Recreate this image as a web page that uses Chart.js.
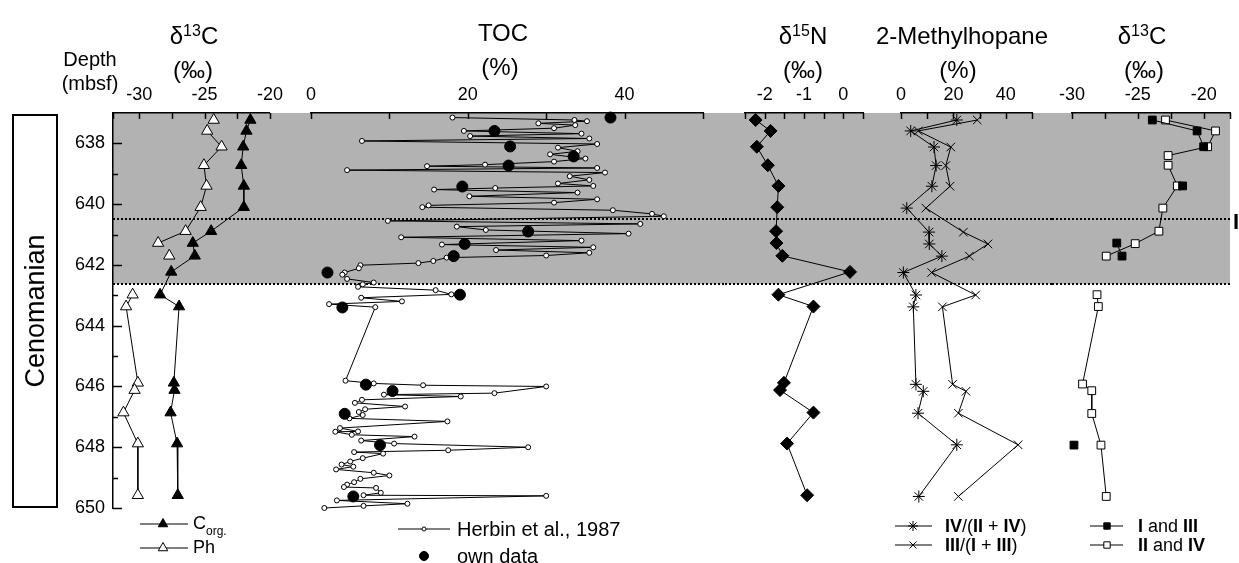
<!DOCTYPE html>
<html>
<head>
<meta charset="utf-8">
<script src="https://cdn.jsdelivr.net/npm/chart.js@4.4.1/dist/chart.umd.min.js"></script>
<style>
  body { margin: 0; width: 1239px; height: 563px; overflow: hidden; position: relative; background: #fff;
         font-family: "Liberation Sans", Arial, sans-serif; color: #000; }
  canvas { position: absolute; top: 0; }
  .t { position: absolute; white-space: nowrap; transform: translate(-50%, -50%); font-size: 24px; line-height: 1; }
  .sup { font-size: 16px; position: relative; top: -8px; }
  .sm { font-size: 20px; }
  .lg { position: absolute; white-space: nowrap; transform: translateY(-50%); font-size: 18px; line-height: 1; }
  .lg b { font-weight: bold; }
  .sub { font-size: 12px; position: relative; top: 6px; }
  #stage { position: absolute; left: 12px; top: 114px; width: 46px; height: 394px; border: 2px solid #000; box-sizing: border-box; }
  #stage span { position: absolute; left: 50%; top: 50%; transform: translate(-50%, -50%) rotate(-90deg); font-size: 27px; white-space: nowrap; }
</style>
</head>
<body>
<canvas id="c1" width="290" height="563" style="left:0px"></canvas>
<canvas id="c2" width="435" height="563" style="left:290px"></canvas>
<canvas id="c3" width="157" height="563" style="left:725px"></canvas>
<canvas id="c4" width="170" height="563" style="left:882px"></canvas>
<canvas id="c5" width="187" height="563" style="left:1052px"></canvas>

<div class="t sm" style="left:90px;top:59px">Depth</div>
<div class="t sm" style="left:90px;top:83px">(mbsf)</div>
<div class="t" style="left:194px;top:36px">&delta;<span class="sup">13</span>C</div>
<div class="t" style="left:193px;top:70px">(&permil;)</div>
<div class="t" style="left:503px;top:33px">TOC</div>
<div class="t" style="left:500px;top:67px">(%)</div>
<div class="t" style="left:803px;top:36px">&delta;<span class="sup">15</span>N</div>
<div class="t" style="left:803px;top:70px">(&permil;)</div>
<div class="t" style="left:962px;top:36px">2-Methylhopane</div>
<div class="t" style="left:958px;top:70px">(%)</div>
<div class="t" style="left:1142px;top:36px">&delta;<span class="sup">13</span>C</div>
<div class="t" style="left:1144px;top:70px">(&permil;)</div>

<div id="stage"><span>Cenomanian</span></div>
<div style="position:absolute;left:1233px;top:222px;transform:translateY(-50%);font-size:22px;font-weight:bold;line-height:1">I</div>

<div class="lg" style="left:193px;top:523px">C<span class="sub">org.</span></div>
<div class="lg" style="left:193px;top:547px">Ph</div>
<div class="lg" style="left:457px;top:529px;font-size:20px">Herbin et al., 1987</div>
<div class="lg" style="left:457px;top:556px;font-size:20px">own data</div>
<div class="lg" style="left:945px;top:526px"><b>IV</b>/(<b>II</b> + <b>IV</b>)</div>
<div class="lg" style="left:945px;top:545px"><b>III</b>/(<b>I</b> + <b>III</b>)</div>
<div class="lg" style="left:1138px;top:526px"><b>I</b> and <b>III</b></div>
<div class="lg" style="left:1138px;top:545px"><b>II</b> and <b>IV</b></div>

<script>
// depth axis (mbsf)
const depthMin = 637, depthMax = 650;
const depthLabels = [638, 640, 642, 644, 646, 648, 650];
const depthMinor = [639, 641, 643, 645, 647, 649];
const zoneBase = 642.62;   // grey interval 637 - 642.62
const zoneSplit = 640.48;  // dotted boundary inside grey

// x axes
const c13Ticks = [-32, -30, -27.5, -25, -22.5, -20];
const c13Labels = [-30, -25, -20];
const tocTicks = [0, 10, 20, 30, 40, 50];
const tocLabels = [0, 20, 40];
const n15Ticks = [-2.5, -2, -1.5, -1, -0.5, 0, 0.5];
const n15Labels = [-2, -1, 0];
const mhTicks = [0, 10, 20, 30, 40, 50];
const mhLabels = [0, 20, 40];
const hopTicks = [-30, -27.5, -25, -22.5, -20, -18];
const hopLabels = [-30, -25, -20];

// δ13C organic carbon and phytane (null = break in line)
const orgDepth = [637.23, 637.59, 638.11, 638.72, 639.40, 640.10, 640.89, 641.28, 641.70, 642.23, 642.98, 643.37, 645.88, 646.12, 646.86, 647.88, 649.58];
const orgC13 = [-21.5, -21.8, -22.05, -22.2, -22.0, -22.0, -24.5, -25.9, -25.75, -27.55, -28.4, -26.95, -27.35, -27.3, -27.6, -27.1, -27.05];
const phDepth = [637.23, 637.23, 637.59, 638.11, 638.72, 639.40, 640.10, 640.89, 641.28, 641.28, 641.70, 641.70, 642.98, 643.37, 645.88, 646.12, 646.86, 647.88, 649.58];
const phC13 = [-24.3, null, -24.8, -23.7, -25.05, -24.85, -25.3, -26.45, -28.55, null, -27.7, null, -30.5, -31.0, -30.1, -30.35, -31.2, -30.1, -30.1];

// TOC, Herbin et al. 1987 and own data
const herbinDepth = [637.15, 637.23, 637.27, 637.34, 637.40, 637.50, 637.59, 637.68, 637.76, 637.84, 637.92, 638.02,
  638.14, 638.26, 638.36, 638.50, 638.60, 638.70, 638.75, 638.81, 638.88, 638.96, 639.08, 639.20, 639.32, 639.40,
  639.47, 639.52, 639.62, 639.74, 639.84, 639.95, 640.04, 640.10, 640.20, 640.32, 640.40, 640.55, 640.65, 640.74,
  640.85, 640.97, 641.09, 641.20, 641.33, 641.42, 641.51, 641.60, 641.69, 641.76, 641.87, 641.94,
  642.01, 642.11, 642.25, 642.32, 642.46,
  642.58, 642.64, 642.72, 642.83, 642.97, 643.08, 643.20, 643.29, 643.39, 645.81, 645.90, 645.96, 646.00, 646.22,
  646.27, 646.33, 646.44, 646.54, 646.66, 646.75, 646.84, 646.94, 647.05, 647.15, 647.37, 647.48, 647.49, 647.59,
  647.65, 647.78, 647.88, 648.00, 648.10, 648.16, 648.21, 648.36, 648.47, 648.57, 648.64, 648.73, 648.84, 648.93,
  649.04, 649.15, 649.23, 649.31, 649.34, 649.50, 649.58, 649.60, 649.75, 649.86, 649.93, 650.00];
const herbinToc = [18.05, 33.6, 35.2, 29.0, 33.7, 31.0, 19.5, 34.5, 20.3, 35.5, 6.5, 36.5,
  31.5, 34.0, 30.5, 35.0, 31.0, 22.2, 14.8, 36.5, 4.6, 37.5, 33.0, 35.5, 31.5, 36.0,
  23.5, 15.7, 34.0, 20.2, 36.5, 31.0, 15.0, 14.2, 38.5, 43.5, 45.0, 9.8, 42.0, 18.6,
  22.3, 40.5, 11.5, 34.5, 16.7, 36.0, 23.6, 35.5, 30.0, 17.3, 15.6, 13.7,
  6.3, 6.1, 4.3, 4.0, 4.6,
  8.0, 6.6, 6.0, 15.9, 17.9, 6.4, 11.6, 2.3, 8.2, 4.4, 8.0, 14.3, 30.0, 23.4,
  9.3, 19.1, 6.5, 5.6, 12.0, 6.9, 6.1, 6.6, 4.9, 17.4, 3.7, 6.0, 3.1, 5.2,
  13.2, 6.4, 10.6, 27.7, 17.5, 5.5, 9.2, 6.6, 5.0, 3.9, 5.4, 3.2, 8.0, 10.0,
  6.3, 5.5, 4.6, 4.2, 8.3, 8.9, 6.7, 30.0, 3.3, 12.3, 6.7, 1.7];
const ownDepth = [637.15, 637.59, 638.10, 638.43, 638.73, 639.42, 640.90, 641.31, 641.71, 642.25, 642.98, 643.40, 645.94, 646.15, 646.90, 647.93, 649.62];
const ownToc = [38.2, 23.4, 25.4, 33.5, 25.2, 19.3, 27.7, 19.6, 18.2, 2.1, 19.0, 4.0, 7.0, 10.4, 4.3, 8.8, 5.4];

// δ15N
const n15Depth = [637.23, 637.59, 638.11, 638.72, 639.40, 640.10, 640.89, 641.28, 641.70, 642.23, 642.98, 643.37, 645.88, 646.12, 646.86, 647.88, 649.58];
const n15 = [-2.23, -1.85, -2.2, -1.92, -1.65, -1.68, -1.71, -1.7, -1.55, 0.17, -1.65, -0.76, -1.51, -1.61, -0.76, -1.43, -0.92];

// 2-methylhopane indices
const mhDepth = [637.23, 637.59, 638.12, 638.73, 639.41, 640.13, 640.92, 641.31, 641.71, 642.25, 642.99, 643.38, 645.93, 646.16, 646.88, 647.92, 649.62];
const mhIV = [21.3, 3.7, 12.6, 13.4, 11.8, 2.2, 10.7, 10.8, 15.6, 0.9, 5.7, 4.7, 5.7, 8.5, 6.5, 21.3, 6.8];
const mhIII = [29.1, 6.6, 19.0, 17.1, 18.7, 9.5, 23.8, 33.2, 26.1, 11.7, 28.5, 15.8, 19.7, 24.8, 21.9, 44.7, 21.9];

// δ13C of hopanes
const hopFilledDepth = [637.23, 637.59, 638.11, 638.11, 639.40, 639.40, 641.28, 641.71, 641.71, 647.93];
const hopIandIII = [-23.9, -20.5, -20.0, null, -21.6, null, -26.6, -26.2, null, -29.85];
const hopOpenDepth = [637.23, 637.59, 638.11, 638.40, 638.40, 638.72, 639.40, 640.13, 640.89, 641.30, 641.71, 641.71,
  642.98, 643.37, 645.92, 646.14, 646.89, 647.93, 649.62];
const hopIIandIV = [-22.9, -19.1, -19.7, -22.7, null, -22.7, -22.0, -23.1, -23.4, -25.2, -27.4, null,
  -28.1, -28.0, -29.2, -28.5, -28.5, -27.8, -27.4];

Chart.defaults.font.family = '"Liberation Sans", Arial, sans-serif';
Chart.defaults.color = '#000';

const pts = (depths, vals) => vals.map((v, i) => ({ x: v, y: depths[i] }));

function series(depths, vals, style, radius, fill, line) {
  return {
    data: pts(depths, vals),
    showLine: line !== false,
    borderColor: '#000',
    borderWidth: 1,
    pointStyle: style,
    pointRadius: radius,
    pointBackgroundColor: fill,
    pointBorderColor: '#000',
    pointBorderWidth: 1,
    spanGaps: false,
    clip: false
  };
}

// grey interval, dotted boundaries, inward ticks and legend symbols
const panelDecor = {
  id: 'panelDecor',
  beforeDraw(chart, args, o) {
    const { ctx, chartArea: a, scales: { y } } = chart;
    const x0 = o.bandLeft === 'area' ? a.left : 0;
    const x1 = o.bandRight === 'area' ? a.right : chart.width;
    ctx.save();
    ctx.fillStyle = '#b2b2b2';
    ctx.fillRect(x0, y.getPixelForValue(depthMin), x1 - x0, y.getPixelForValue(zoneBase) - y.getPixelForValue(depthMin));
    ctx.restore();
  },
  beforeDatasetsDraw(chart, args, o) {
    const { ctx, chartArea: a, scales: { x, y } } = chart;
    const x0 = o.bandLeft === 'area' ? a.left : 0;
    const x1 = o.bandRight === 'area' ? a.right : chart.width;
    ctx.save();
    ctx.strokeStyle = '#000';
    ctx.lineWidth = 2;
    ctx.setLineDash([2, 2]);
    [zoneSplit, zoneBase].forEach(d => {
      const py = Math.round(y.getPixelForValue(d));
      ctx.beginPath(); ctx.moveTo(x0, py); ctx.lineTo(x1, py); ctx.stroke();
    });
    ctx.setLineDash([]);
    ctx.lineWidth = 1.5;
    o.xTicks.forEach(v => {
      const px = Math.round(x.getPixelForValue(v)) + 0.5;
      ctx.beginPath(); ctx.moveTo(px, a.top); ctx.lineTo(px, a.top + 6); ctx.stroke();
    });
    if (o.depthAxis) {
      depthLabels.forEach(d => {
        const py = Math.round(y.getPixelForValue(d)) + 0.5;
        ctx.beginPath(); ctx.moveTo(a.left, py); ctx.lineTo(a.left + 9, py); ctx.stroke();
      });
      depthMinor.forEach(d => {
        const py = Math.round(y.getPixelForValue(d)) + 0.5;
        ctx.beginPath(); ctx.moveTo(a.left, py); ctx.lineTo(a.left + 5, py); ctx.stroke();
      });
    }
    ctx.restore();
  },
  afterDraw(chart, args, o) {
    const ctx = chart.ctx;
    ctx.save();
    (o.legend || []).forEach(it => {
      const off = o.offset;
      ctx.strokeStyle = '#000';
      ctx.lineWidth = 1;
      if (it.line) {
        ctx.beginPath(); ctx.moveTo(it.x1 - off, it.y); ctx.lineTo(it.x2 - off, it.y); ctx.stroke();
      }
      ctx.fillStyle = it.fill;
      Chart.helpers.drawPoint(ctx, { pointStyle: it.style, radius: it.r, rotation: 0, borderWidth: 1 }, it.xm - off, it.y);
    });
    ctx.restore();
  }
};

function panel(id, cfg) {
  const tickFont = { size: 18 };
  return new Chart(document.getElementById(id), {
    type: 'scatter',
    data: { datasets: cfg.datasets },
    plugins: [panelDecor],
    options: {
      responsive: false,
      animation: false,
      events: [],
      layout: { padding: { top: 83, bottom: 55, left: cfg.padL, right: cfg.padR } },
      plugins: {
        legend: { display: false },
        tooltip: { enabled: false },
        panelDecor: {
          bandLeft: cfg.bandLeft, bandRight: cfg.bandRight, xTicks: cfg.ticks,
          depthAxis: !!cfg.depthAxis, legend: cfg.legend, offset: cfg.offset
        }
      },
      scales: {
        x: {
          type: 'linear', position: 'top', min: cfg.min, max: cfg.max,
          afterFit: s => { s.height = 30; },
          afterBuildTicks: s => { s.ticks = cfg.ticks.map(v => ({ value: v })); },
          grid: { display: true, drawOnChartArea: false, drawTicks: false },
          border: { display: true, color: '#000', width: 1.5 },
          ticks: {
            padding: 7, font: tickFont, maxRotation: 0, autoSkip: false,
            callback: v => cfg.labels.includes(v) ? String(v) : ''
          }
        },
        y: {
          type: 'linear', reverse: true, min: depthMin, max: depthMax,
          display: !!cfg.depthAxis,
          afterFit: s => { s.width = cfg.depthAxis ? 40 : 0; },
          afterBuildTicks: s => { s.ticks = depthLabels.map(v => ({ value: v })); },
          grid: { display: true, drawOnChartArea: false, drawTicks: false },
          border: { display: true, color: '#000', width: 1.5 },
          ticks: { padding: 8, font: tickFont, autoSkip: false, callback: v => String(v) }
        }
      }
    }
  });
}

panel('c1', {
  min: -32, max: -20, ticks: c13Ticks, labels: c13Labels, padL: 73, padR: 20,
  depthAxis: true, bandLeft: 'area', bandRight: 'edge', offset: 0,
  datasets: [
    series(orgDepth, orgC13, 'triangle', 6.5, '#000'),
    series(phDepth, phC13, 'triangle', 6.5, '#fff')
  ],
  legend: [
    { x1: 140, x2: 188, xm: 163, y: 524, style: 'triangle', r: 5.5, fill: '#000', line: true },
    { x1: 140, x2: 188, xm: 163, y: 548, style: 'triangle', r: 5.5, fill: '#fff', line: true }
  ]
});

panel('c2', {
  min: 0, max: 50, ticks: tocTicks, labels: tocLabels, padL: 21, padR: 22,
  bandLeft: 'edge', bandRight: 'edge', offset: 290,
  datasets: [
    series(ownDepth, ownToc, 'circle', 5.5, '#000', false),
    series(herbinDepth, herbinToc, 'circle', 2.5, '#fff')
  ],
  legend: [
    { x1: 398, x2: 450, xm: 424, y: 529, style: 'circle', r: 2, fill: '#fff', line: true },
    { x1: 398, x2: 450, xm: 424, y: 556, style: 'circle', r: 4.5, fill: '#000', line: false }
  ]
});

panel('c3', {
  min: -2.5, max: 0.5, ticks: n15Ticks, labels: n15Labels, padL: 20, padR: 19,
  bandLeft: 'edge', bandRight: 'edge', offset: 725,
  datasets: [series(n15Depth, n15, 'rectRot', 6.5, '#000')]
});

panel('c4', {
  min: 0, max: 50, ticks: mhTicks, labels: mhLabels, padL: 19, padR: 20,
  bandLeft: 'edge', bandRight: 'edge', offset: 882,
  datasets: [
    series(mhDepth, mhIV, 'star', 6, '#000'),
    series(mhDepth, mhIII, 'crossRot', 6, '#000')
  ],
  legend: [
    { x1: 895, x2: 932, xm: 913, y: 526, style: 'star', r: 5, fill: '#000', line: true },
    { x1: 895, x2: 932, xm: 913, y: 545, style: 'crossRot', r: 5, fill: '#000', line: true }
  ]
});

panel('c5', {
  min: -30, max: -18, ticks: hopTicks, labels: hopLabels, padL: 20, padR: 9,
  bandLeft: 'edge', bandRight: 'area', offset: 1052,
  datasets: [
    series(hopFilledDepth, hopIandIII, 'rect', 5.5, '#000'),
    series(hopOpenDepth, hopIIandIV, 'rect', 5.5, '#fff')
  ],
  legend: [
    { x1: 1090, x2: 1123, xm: 1107, y: 526, style: 'rect', r: 4.5, fill: '#000', line: true },
    { x1: 1090, x2: 1123, xm: 1107, y: 545, style: 'rect', r: 4.5, fill: '#fff', line: true }
  ]
});
</script>
</body>
</html>
